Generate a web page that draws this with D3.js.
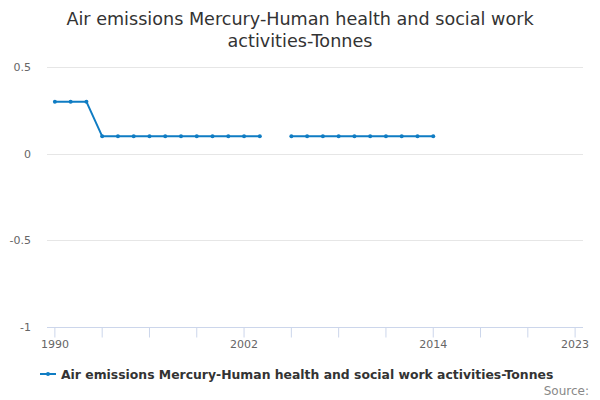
<!DOCTYPE html>
<html lang="en">
  <head>
    <meta charset="UTF-8" />
    <title>Air emissions Mercury</title>
    <script src="https://cdn.jsdelivr.net/npm/d3@7"></script>
    <style>
      html,
      body {
        margin: 0;
        padding: 0;
        background: #fff;
      }
      svg {
        font-family: "DejaVu Sans", sans-serif;
      }
    </style>
  </head>
  <body>
    <svg id="chart" width="600" height="400"></svg>
    <script>
      // years on the category axis
      const years = d3.range(1990, 2024);
      // tonnes per year, null where there is no reading
      const values = [
        0.3, 0.3, 0.3, 0.1, 0.1, 0.1, 0.1, 0.1, 0.1, 0.1, 0.1, 0.1, 0.1, 0.1,
        null, 0.1, 0.1, 0.1, 0.1, 0.1, 0.1, 0.1, 0.1, 0.1, 0.1,
      ];
      const yTicks = [-1, -0.5, 0, 0.5];
      const xTickLabels = [1990, 1993, 1996, 1999, 2002, 2005, 2008, 2011, 2014, 2017, 2020, 2023];
      const xLabelsShown = [1990, 2002, 2014, 2023];
      const seriesName = "Air emissions Mercury-Human health and social work activities-Tonnes";
      const titleLines = ["Air emissions Mercury-Human health and social work", "activities-Tonnes"];

      const color = "#0f7cc3";
      const margin = { top: 67, right: 17, bottom: 73, left: 47 };
      const width = 600, height = 400;

      const svg = d3.select("#chart");

      const x = d3
        .scaleBand()
        .domain(years)
        .range([margin.left, width - margin.right]);
      const cx = (d) => x(d) + x.bandwidth() / 2;

      const y = d3
        .scaleLinear()
        .domain([-1, 0.5])
        .range([height - margin.bottom, margin.top]);

      // title
      svg
        .append("text")
        .attr("x", 300)
        .attr("y", 25)
        .attr("text-anchor", "middle")
        .attr("fill", "#333")
        .style("font-size", "17.6px")
        .selectAll("tspan")
        .data(titleLines)
        .join("tspan")
        .attr("x", 300)
        .attr("dy", (d, i) => (i ? 22 : 0))
        .text((d) => d);

      // grid
      svg
        .append("g")
        .selectAll("line")
        .data(yTicks.filter((t) => t !== -1))
        .join("line")
        .attr("x1", margin.left)
        .attr("x2", width - margin.right)
        .attr("y1", (d) => Math.round(y(d)) + 0.5)
        .attr("y2", (d) => Math.round(y(d)) + 0.5)
        .attr("stroke", "#e6e6e6");

      // y labels
      svg
        .append("g")
        .selectAll("text")
        .data(yTicks)
        .join("text")
        .attr("x", 31)
        .attr("y", (d) => y(d) + 4)
        .attr("text-anchor", "end")
        .attr("fill", "#666")
        .style("font-size", "11px")
        .text((d) => String(d));

      // x axis
      const xAxis = d3
        .axisBottom(x)
        .tickValues(xTickLabels)
        .tickSize(10)
        .tickPadding(3)
        .tickFormat((d) => (xLabelsShown.includes(d) ? d : ""));
      const gx = svg
        .append("g")
        .attr("transform", `translate(0,${Math.round(y(-1)) + 0.5})`)
        .call(xAxis);
      gx.select(".domain").attr("stroke", "#ccd6eb").attr("d", `M${margin.left},0H${width - margin.right}`);
      gx.selectAll(".tick line").attr("stroke", "#ccd6eb");
      gx.selectAll(".tick text")
        .attr("fill", "#666")
        .style("font-size", "11px")
        .style("font-family", "DejaVu Sans, sans-serif");

      // series
      const pts = years.map((yr, i) => ({ year: yr, value: i < values.length ? values[i] : null }));
      const line = d3
        .line()
        .defined((d) => d.value !== null)
        .x((d) => cx(d.year))
        .y((d) => y(d.value));

      svg
        .append("path")
        .datum(pts)
        .attr("d", line)
        .attr("fill", "none")
        .attr("stroke", color)
        .attr("stroke-width", 2);

      svg
        .append("g")
        .selectAll("circle")
        .data(pts.filter((d) => d.value !== null))
        .join("circle")
        .attr("cx", (d) => cx(d.year))
        .attr("cy", (d) => y(d.value))
        .attr("r", 2)
        .attr("fill", color);

      // legend
      const lg = svg.append("g").attr("transform", "translate(40,374)");
      lg.append("line").attr("x1", 0).attr("x2", 16).attr("stroke", color).attr("stroke-width", 2);
      lg.append("circle").attr("cx", 8).attr("r", 2).attr("fill", color);
      lg.append("text")
        .attr("x", 21)
        .attr("y", 4.5)
        .attr("fill", "#333")
        .style("font-size", "12.4px")
        .style("font-weight", "bold")
        .text(seriesName);

      // credits
      svg
        .append("text")
        .attr("x", 589)
        .attr("y", 395)
        .attr("text-anchor", "end")
        .attr("fill", "#888")
        .style("font-size", "12px")
        .text("Source:");
    </script>
  </body>
</html>
